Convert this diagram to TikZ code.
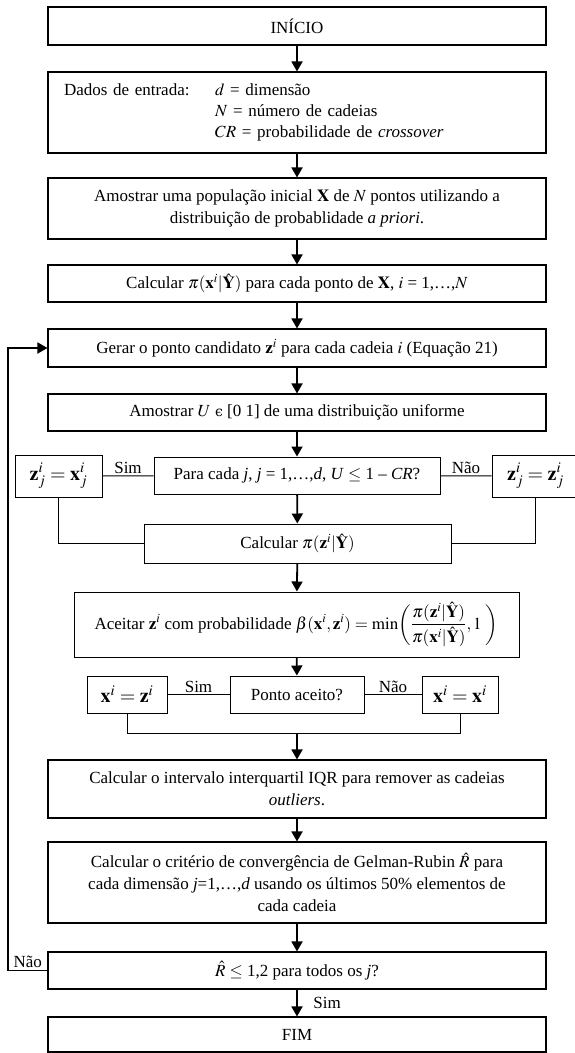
\documentclass[tikz,border=0pt]{standalone}
\usepackage{mathptmx}
\usepackage{fontspec}
\setmainfont{Liberation Serif}
\newfontfamily\symbfont{DejaVu Serif}
\usetikzlibrary{arrows.meta}

\newcommand{\boxfont}{\fontsize{17}{22}\selectfont}
\newcommand{\eqfont}{\fontsize{20}{24}\selectfont}

\begin{document}
\begin{tikzpicture}[x=1pt, y=-1pt,
    box/.style={draw, rectangle, line width=1.1pt, minimum width=498pt, align=center, inner sep=0pt, font=\boxfont},
    sidebox/.style={draw, rectangle, line width=1pt, align=center, inner sep=0pt, font=\boxfont},
    eqbox/.style={sidebox, font=\eqfont},
    arc/.style={draw, line width=1.8pt, -{Triangle[width=11pt, length=10pt]}},
    link/.style={draw, line width=0.9pt},
    back/.style={draw, line width=1.8pt, -{Triangle[width=11pt, length=10pt]}},
    lbl/.style={font=\boxfont, inner sep=1.5pt}
    ]

    \useasboundingbox (0,0) rectangle (575,1053);

    % Define boxes
    \node[box, minimum height=38pt] (inicio) at (297,26) {INÍCIO};
    \node[box, minimum height=81pt, align=left, text width=466pt] (dados) at (297,112.5) {%
        \renewcommand{\arraystretch}{0.96}%
        \begin{tabular}{@{}p{151pt}@{}l@{}}
        Dados de entrada: & $d$ = dimensão\\
         & $N$ = número de cadeias\\
         & $CR$ = probabilidade de \textit{crossover}
        \end{tabular}};
    \node[box, minimum height=61pt] (amostra) at (297,208.5) {Amostrar uma população inicial $\mathbf{X}$ de $N$ pontos utilizando a\\ distribuição de probablidade \textit{a priori}.};
    \node[box, minimum height=37pt] (calcx) at (297,283.5) {Calcular $\pi(\mathbf{x}^i|\hat{\mathbf{Y}})$ para cada ponto de $\mathbf{X}$, $i$ = 1,…,$N$};
    \node[box, minimum height=38pt] (gerar) at (297,348) {Gerar o ponto candidato $\mathbf{z}^i$ para cada cadeia $i$ (Equação 21)};
    \node[box, minimum height=37pt] (amostrau) at (297,412.5) {Amostrar $U$ {\symbfont\fontsize{14}{17}\selectfont ϵ} [0 1] de uma distribuição uniforme};

    \node[sidebox, minimum width=286pt, minimum height=37pt] (paracada) at (297,475.5) {Para cada \textit{j}, \textit{j} = 1,…,\textit{d}, \textit{U} $\leq$ 1 – \textit{CR}?};
    \node[eqbox, minimum width=87pt, minimum height=42pt] (zsim) at (58.5,476) {$\mathbf{z}_j^i = \mathbf{x}_j^i$};
    \node[eqbox, minimum width=87pt, minimum height=42pt] (znao) at (535.5,476) {$\mathbf{z}_j^i = \mathbf{z}_j^i$};
    \node[sidebox, minimum width=307pt, minimum height=39pt] (calcz) at (297.5,543.5) {Calcular $\pi(\mathbf{z}^i|\hat{\mathbf{Y}})$};

    \node[sidebox, minimum width=445pt, minimum height=65pt] (aceitar) at (296.5,624.5) {Aceitar $\mathbf{z}^i$ com probabilidade $\beta(\mathbf{x}^i, \mathbf{z}^i) = \min\!\left(\displaystyle\frac{\pi(\mathbf{z}^i|\hat{\mathbf{Y}})}{\pi(\mathbf{x}^i|\hat{\mathbf{Y}})}, 1\ \right)$};
    \node[sidebox, minimum width=134pt, minimum height=37pt] (aceito) at (297,694.5) {Ponto aceito?};
    \node[eqbox, minimum width=80pt, minimum height=37pt] (xsim) at (127,694.5) {$\mathbf{x}^i = \mathbf{z}^i$};
    \node[eqbox, minimum width=76pt, minimum height=37pt] (xnao) at (460,694.5) {$\mathbf{x}^i = \mathbf{x}^i$};
    \coordinate (merge) at (297,733);

    \node[box, minimum height=58pt] (iqr) at (297,789) {Calcular o intervalo interquartil IQR para remover as cadeias\\ \textit{outliers}.};
    \node[box, minimum height=81pt] (gelman) at (297,882.5) {Calcular o critério de convergência de Gelman-Rubin $\hat{R}$ para\\ cada dimensão \textit{j}=1,…,\textit{d} usando os últimos 50\% elementos de\\ cada cadeia};
    \node[box, minimum height=37pt] (rhat) at (297,970.5) {$\hat{R}$ $\leq$ 1,2 para todos os \textit{j}?};
    \node[box, minimum height=35pt] (fim) at (297,1034.5) {FIM};
    \coordinate (loopx) at (8,0);

    % Define arrows
    \foreach \a/\b in {inicio/dados, dados/amostra, amostra/calcx, calcx/gerar, gerar/amostrau,
        amostrau/paracada, paracada/calcz, calcz/aceitar, aceitar/aceito, merge/iqr, iqr/gelman, gelman/rhat}
        \draw[arc] (\a) -- (\b);
    \draw[arc] (rhat) -- node[lbl, right, xshift=14pt] (simfim) {Sim} (fim);

    % Define branches
    \draw[link] (zsim) -- node[lbl, above] (sim1) {Sim} (paracada);
    \draw[link] (paracada) -- node[lbl, above] (nao1) {Não} (znao);
    \draw[link] (zsim.south) |- (calcz.west);
    \draw[link] (znao.south) |- (calcz.east);
    \draw[link] (xsim) -- node[lbl, above] (sim2) {Sim} (aceito);
    \draw[link] (aceito) -- node[lbl, above] (nao2) {Não} (xnao);
    \draw[link] (xsim.south) |- (merge) -| (xnao.south);

    % Loop back
    \draw[back] (rhat.west) -- node[lbl, above] (nao3) {Não} (rhat.west -| loopx) |- (gerar.west);
\end{tikzpicture}
\end{document}
